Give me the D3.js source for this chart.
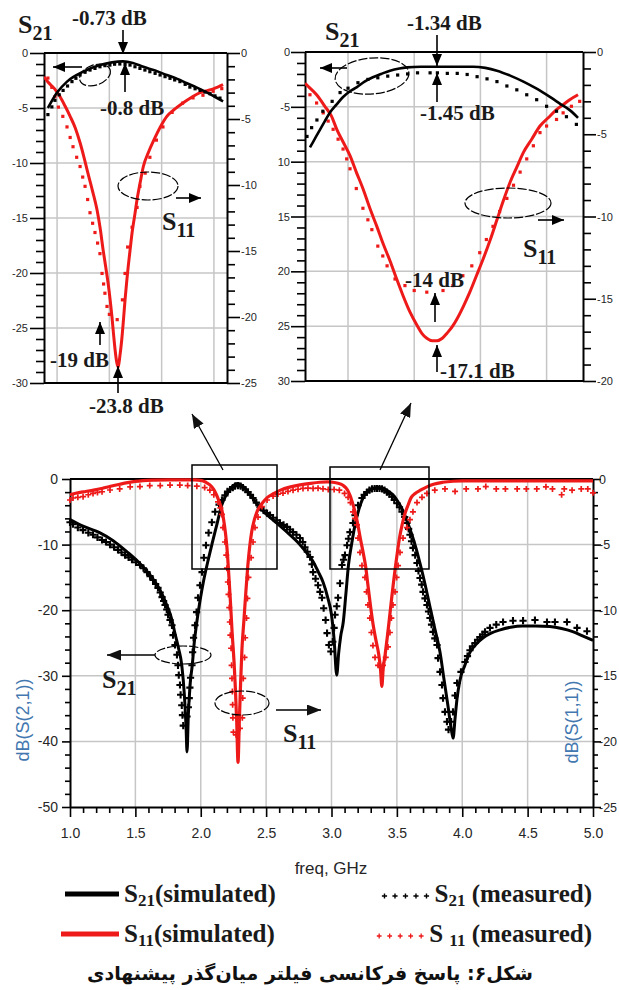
<!DOCTYPE html>
<html><head><meta charset="utf-8">
<script src="https://cdn.jsdelivr.net/npm/d3@7"></script>
<style>body{margin:0;background:#fff}</style></head><body>
<script>
// ---------------- DATA ----------------
// Main chart: frequency (GHz), S21 in dB (left axis), S11 in dB (right axis)
const mainFreqTicks = [1.0,1.5,2.0,2.5,3.0,3.5,4.0,4.5,5.0];
const mainLeftTicks = [0,-10,-20,-30,-40,-50];
const mainRightTicks = [0,-5,-10,-15,-20,-25];
const insetLeftTicks = [0,-5,-10,-15,-20,-25,-30];
const insetARightTicks = [0,-5,-10,-15,-20,-25];
const insetBRightTicks = [0,-5,-10,-15,-20];
const insetAGridFreq = [2.05,2.25,2.45,2.65];
const insetBGridFreq = [3.1,3.3,3.5,3.7];

const s21SimMain = [[1.0,-6.2],[1.1,-7.2],[1.23,-8.2],[1.33,-9.4],[1.436,-11.1],[1.52,-12.6],[1.61,-14.6],[1.68,-16.6],[1.74,-19.2],[1.78,-21.5],[1.80,-23.3],[1.83,-25.8],[1.855,-28.4],[1.875,-33],[1.888,-38],[1.895,-41.6],[1.905,-36],[1.92,-31],[1.935,-28.4],[1.95,-25],[1.97,-21.8],[1.995,-18.5],[2.02,-15.7],[2.055,-12.5],[2.09,-9.6],[2.125,-6.8],[2.16,-4.0],[2.19,-2.6],[2.22,-1.7],[2.25,-1.0],[2.28,-0.7],[2.31,-0.9],[2.35,-1.7],[2.40,-3.0],[2.45,-4.3],[2.51,-5.5],[2.58,-6.7],[2.66,-8.1],[2.74,-9.6],[2.80,-11.0],[2.86,-12.6],[2.90,-14.2],[2.935,-15.7],[2.97,-18.0],[3.0,-20.7],[3.02,-24.5],[3.04,-29.9],[3.055,-26.5],[3.07,-24.0],[3.09,-21.8],[3.11,-17.5],[3.13,-13.1],[3.155,-9.8],[3.18,-7.0],[3.21,-4.6],[3.24,-2.9],[3.28,-1.8],[3.32,-1.4],[3.36,-1.3],[3.39,-1.4],[3.43,-1.8],[3.47,-2.4],[3.51,-3.5],[3.55,-5.0],[3.585,-6.8],[3.615,-8.5],[3.65,-10.8],[3.68,-13.1],[3.715,-16.0],[3.75,-19.2],[3.79,-22.8],[3.83,-26.4],[3.86,-30.5],[3.89,-34.5],[3.915,-38],[3.93,-39.5],[3.945,-36.5],[3.96,-33.5],[3.98,-30.9],[4.02,-28.4],[4.06,-26.4],[4.11,-25.1],[4.16,-24.2],[4.22,-23.5],[4.29,-23.0],[4.37,-22.6],[4.46,-22.4],[4.56,-22.4],[4.67,-22.5],[4.76,-22.8],[4.85,-23.3],[4.92,-23.9],[5.0,-24.6]];

const s11SimMain = [[1.0,-1.2],[1.06,-1.05],[1.12,-0.95],[1.18,-0.85],[1.25,-0.7],[1.31,-0.55],[1.38,-0.4],[1.44,-0.28],[1.5,-0.18],[1.56,-0.12],[1.65,-0.08],[1.75,-0.06],[1.85,-0.06],[1.95,-0.07],[2.0,-0.1],[2.04,-0.25],[2.07,-0.45],[2.1,-0.8],[2.12,-1.2],[2.14,-1.7],[2.16,-2.3],[2.175,-3.1],[2.19,-4.2],[2.2,-5.2],[2.21,-6.6],[2.225,-9.0],[2.24,-11.7],[2.255,-14.0],[2.265,-16.0],[2.275,-18.5],[2.285,-21.6],[2.295,-18.5],[2.305,-15.5],[2.315,-13.0],[2.33,-10.8],[2.345,-8.6],[2.36,-6.6],[2.375,-5.1],[2.39,-4.0],[2.41,-3.1],[2.43,-2.5],[2.47,-1.85],[2.51,-1.4],[2.56,-1.1],[2.61,-0.85],[2.68,-0.62],[2.76,-0.45],[2.84,-0.33],[2.91,-0.25],[2.97,-0.22],[3.01,-0.25],[3.05,-0.33],[3.09,-0.5],[3.12,-0.8],[3.14,-1.2],[3.16,-1.8],[3.18,-2.5],[3.2,-3.4],[3.22,-4.5],[3.24,-5.5],[3.26,-6.6],[3.28,-8.2],[3.3,-9.8],[3.32,-11.2],[3.34,-12.3],[3.36,-13.3],[3.375,-14.5],[3.385,-15.8],[3.395,-14.5],[3.41,-13.4],[3.425,-12.2],[3.44,-10.9],[3.46,-9.1],[3.475,-7.8],[3.49,-6.6],[3.505,-5.5],[3.52,-4.5],[3.54,-3.5],[3.56,-2.7],[3.585,-2.0],[3.61,-1.4],[3.64,-1.1],[3.68,-0.85],[3.73,-0.6],[3.78,-0.4],[3.85,-0.25],[3.93,-0.17],[4.0,-0.15],[4.5,-0.15],[5.0,-0.15]];

const s21MeasMain = [[1.0,-6.6],[1.023,-6.9],[1.06,-7.4],[1.099,-7.8],[1.14,-8.2],[1.176,-8.5],[1.21,-8.9],[1.245,-9.3],[1.275,-9.6],[1.306,-10.0],[1.337,-10.4],[1.367,-10.8],[1.394,-11.2],[1.421,-11.6],[1.448,-11.95],[1.474,-12.3],[1.505,-12.7],[1.535,-13.1],[1.562,-13.6],[1.589,-14.2],[1.612,-14.8],[1.635,-15.4],[1.655,-16.0],[1.673,-16.6],[1.69,-17.3],[1.704,-18.0],[1.716,-18.6],[1.727,-19.2],[1.74,-19.9],[1.75,-20.7],[1.765,-21.5],[1.78,-22.3],[1.788,-23.8],[1.803,-25.3],[1.818,-26.8],[1.826,-28.4],[1.832,-29.9],[1.841,-31.4],[1.846,-32.9],[1.855,-34.5],[1.86,-36.0],[1.866,-37.6],[1.895,-36.2],[1.905,-34.8],[1.912,-33.4],[1.917,-31.8],[1.922,-30.3],[1.933,-28.4],[1.938,-26.4],[1.945,-24.2],[1.956,-22.3],[1.968,-20.3],[1.979,-18.1],[1.994,-16.2],[2.01,-14.2],[2.024,-12.0],[2.04,-10.1],[2.06,-8.2],[2.085,-6.6],[2.11,-5.0],[2.14,-3.9],[2.162,-3.2],[2.185,-2.5],[2.205,-1.9],[2.224,-1.6],[2.245,-1.3],[2.262,-1.1],[2.285,-1.0],[2.305,-1.1],[2.323,-1.3],[2.342,-1.6],[2.361,-2.0],[2.38,-2.4],[2.40,-2.9],[2.425,-3.6],[2.453,-4.3],[2.48,-4.8],[2.507,-5.2],[2.53,-5.5],[2.553,-5.9],[2.58,-6.3],[2.606,-6.7],[2.633,-7.0],[2.66,-7.3],[2.683,-7.7],[2.706,-8.1],[2.732,-8.5],[2.759,-9.0],[2.78,-9.6],[2.797,-10.4],[2.815,-11.1],[2.836,-11.9],[2.85,-13.0],[2.859,-14.2],[2.878,-15.2],[2.897,-16.2],[2.912,-17.2],[2.927,-18.1],[2.94,-19.7],[2.955,-21.5],[2.966,-23.5],[2.98,-25.3],[2.995,-26.3],[3.01,-24.8],[3.02,-22.7],[3.027,-20.7],[3.04,-19.4],[3.05,-18.1],[3.065,-15.9],[3.08,-13.1],[3.092,-12.3],[3.103,-11.6],[3.119,-10.1],[3.13,-9.1],[3.141,-8.1],[3.164,-6.7],[3.18,-5.5],[3.203,-4.0],[3.233,-2.9],[3.25,-2.4],[3.271,-2.0],[3.29,-1.7],[3.31,-1.5],[3.33,-1.45],[3.348,-1.45],[3.367,-1.45],[3.386,-1.5],[3.405,-1.7],[3.424,-2.0],[3.443,-2.3],[3.463,-2.7],[3.48,-3.2],[3.501,-3.7],[3.52,-4.3],[3.539,-5.0],[3.56,-5.8],[3.577,-6.7],[3.59,-7.6],[3.60,-8.5],[3.612,-9.5],[3.623,-10.5],[3.64,-11.6],[3.654,-12.8],[3.665,-14.0],[3.677,-15.1],[3.69,-16.1],[3.70,-17.2],[3.715,-18.2],[3.73,-19.2],[3.742,-20.2],[3.753,-21.2],[3.765,-22.2],[3.776,-23.3],[3.79,-24.3],[3.807,-25.3],[3.815,-27.3],[3.83,-29.4],[3.845,-31.4],[3.853,-33.4],[3.868,-35.5],[3.883,-37.0],[3.895,-38.2],[3.915,-37.0],[3.929,-35.5],[3.945,-33.0],[3.96,-31.1],[3.99,-29.4],[4.021,-27.9],[4.04,-27.0],[4.059,-26.1],[4.078,-25.5],[4.098,-25.0],[4.117,-24.5],[4.136,-24.1],[4.155,-23.7],[4.174,-23.3],[4.212,-22.7],[4.26,-22.2],[4.312,-21.8],[4.388,-21.6],[4.465,-21.6],[4.556,-21.5],[4.648,-21.8],[4.709,-21.8],[4.801,-21.8],[4.878,-22.7],[4.954,-23.2]];

const s11MeasMain = [[1.0,-1.6],[1.023,-1.45],[1.06,-1.4],[1.10,-1.35],[1.14,-1.2],[1.176,-1.1],[1.21,-1.02],[1.245,-0.97],[1.306,-0.84],[1.38,-0.76],[1.46,-0.6],[1.535,-0.58],[1.61,-0.5],[1.69,-0.5],[1.765,-0.46],[1.84,-0.46],[1.90,-0.5],[1.97,-0.55],[2.03,-0.65],[2.07,-0.85],[2.10,-1.2],[2.132,-1.75],[2.15,-2.2],[2.162,-2.7],[2.17,-3.7],[2.185,-4.8],[2.195,-5.8],[2.2,-6.8],[2.207,-7.85],[2.212,-8.8],[2.218,-9.8],[2.222,-10.9],[2.226,-11.9],[2.232,-12.9],[2.236,-14.2],[2.239,-15.2],[2.242,-16.2],[2.244,-17.2],[2.246,-18.2],[2.25,-19.3],[2.27,-19.5],[2.30,-19.0],[2.318,-18.2],[2.321,-16.7],[2.325,-15.2],[2.335,-13.6],[2.34,-12.1],[2.35,-10.6],[2.357,-9.1],[2.365,-7.5],[2.385,-6.0],[2.40,-4.8],[2.415,-3.7],[2.438,-2.9],[2.468,-2.1],[2.507,-1.6],[2.553,-1.3],[2.59,-1.15],[2.629,-1.07],[2.667,-0.95],[2.706,-0.85],[2.744,-0.78],[2.782,-0.72],[2.82,-0.7],[2.859,-0.72],[2.897,-0.7],[2.935,-0.75],[2.975,-0.8],[3.02,-0.8],[3.06,-0.85],[3.10,-1.1],[3.127,-1.4],[3.145,-1.8],[3.164,-2.5],[3.18,-3.0],[3.195,-3.5],[3.203,-4.5],[3.218,-5.6],[3.233,-6.6],[3.256,-7.5],[3.268,-8.6],[3.279,-9.6],[3.294,-10.6],[3.305,-11.7],[3.317,-12.7],[3.333,-13.6],[3.356,-14.2],[3.375,-14.3],[3.394,-14.2],[3.415,-13.6],[3.432,-12.8],[3.447,-11.7],[3.458,-10.6],[3.47,-9.6],[3.486,-8.6],[3.498,-7.5],[3.509,-6.6],[3.524,-5.6],[3.547,-4.5],[3.577,-3.7],[3.60,-3.1],[3.623,-2.5],[3.654,-1.8],[3.692,-1.4],[3.73,-1.1],[3.79,-0.85],[3.868,-0.76],[3.945,-0.95],[4.03,-0.76],[4.12,-0.76],[4.18,-0.58],[4.26,-0.76],[4.33,-0.76],[4.42,-0.76],[4.49,-0.76],[4.57,-0.76],[4.64,-0.6],[4.69,-0.76],[4.76,-1.2],[4.78,-0.76],[4.84,-0.85],[4.91,-0.76],[4.96,-0.76],[5.0,-1.05]];

// Inset A (first passband)
const aS21Sim = [[2.015,-5.0],[2.05,-3.6],[2.088,-2.6],[2.15,-1.7],[2.214,-1.1],[2.26,-0.85],[2.302,-0.76],[2.34,-0.9],[2.38,-1.25],[2.425,-1.6],[2.47,-2.0],[2.51,-2.35],[2.547,-2.75],[2.585,-3.15],[2.624,-3.6],[2.655,-4.0],[2.685,-4.4]];
const aS21Meas = [[2.015,-5.6],[2.03,-4.9],[2.042,-4.3],[2.058,-3.8],[2.073,-3.4],[2.09,-3.0],[2.107,-2.6],[2.122,-2.3],[2.138,-2.0],[2.157,-1.75],[2.176,-1.55],[2.195,-1.4],[2.214,-1.25],[2.233,-1.15],[2.252,-1.1],[2.27,-1.02],[2.29,-1.0],[2.31,-1.03],[2.329,-1.1],[2.348,-1.25],[2.367,-1.4],[2.386,-1.55],[2.405,-1.7],[2.425,-1.85],[2.444,-2.0],[2.463,-2.15],[2.482,-2.3],[2.50,-2.45],[2.52,-2.6],[2.54,-2.85],[2.558,-3.1],[2.578,-3.25],[2.597,-3.4],[2.616,-3.55],[2.635,-3.7],[2.654,-3.9],[2.673,-4.1]];
const aS11Sim = [[2.0,-1.8],[2.015,-2.2],[2.04,-2.7],[2.061,-3.3],[2.08,-4.0],[2.1,-4.8],[2.12,-5.7],[2.138,-6.8],[2.153,-7.9],[2.168,-9.1],[2.185,-10.4],[2.203,-11.9],[2.215,-13.3],[2.226,-14.9],[2.236,-16.2],[2.245,-17.4],[2.253,-18.7],[2.26,-20],[2.266,-21.3],[2.272,-22.5],[2.278,-23.4],[2.284,-23.8],[2.29,-23.0],[2.297,-21.8],[2.304,-20.2],[2.31,-18.7],[2.316,-17.4],[2.322,-16.2],[2.33,-14.8],[2.337,-13.6],[2.347,-12.3],[2.356,-11.1],[2.368,-9.8],[2.38,-8.6],[2.40,-7.5],[2.42,-6.6],[2.445,-5.6],[2.47,-4.8],[2.5,-4.25],[2.53,-3.8],[2.565,-3.35],[2.597,-3.0],[2.625,-2.85],[2.65,-2.7],[2.685,-2.4]];
const aS11Meas = [[2.015,-1.9],[2.03,-2.6],[2.042,-3.3],[2.055,-4.1],[2.072,-4.8],[2.088,-5.6],[2.1,-6.4],[2.111,-7.1],[2.125,-7.9],[2.138,-8.6],[2.148,-9.4],[2.157,-10.1],[2.167,-11.1],[2.176,-12.1],[2.186,-12.9],[2.195,-13.6],[2.205,-14.4],[2.214,-15.2],[2.222,-16.7],[2.228,-17.5],[2.233,-18.2],[2.241,-19.2],[2.25,-19.8],[2.28,-20.2],[2.30,-18.7],[2.31,-16.7],[2.32,-14.7],[2.337,-13.2],[2.356,-11.7],[2.367,-10.1],[2.387,-9.1],[2.405,-7.9],[2.43,-6.6],[2.455,-5.6],[2.49,-4.5],[2.53,-3.8],[2.57,-3.4],[2.608,-3.2],[2.647,-2.9],[2.68,-2.7]];

// Inset B (second passband)
const bS21Sim = [[2.985,-8.7],[3.0,-7.9],[3.015,-7.1],[3.03,-6.3],[3.046,-5.5],[3.065,-4.8],[3.085,-4.1],[3.105,-3.6],[3.127,-3.2],[3.15,-2.7],[3.175,-2.3],[3.2,-2.0],[3.227,-1.7],[3.255,-1.5],[3.278,-1.4],[3.32,-1.34],[3.378,-1.34],[3.43,-1.34],[3.478,-1.34],[3.515,-1.45],[3.55,-1.7],[3.59,-2.15],[3.63,-2.7],[3.67,-3.35],[3.71,-4.1],[3.74,-4.7],[3.77,-5.3],[3.795,-6.0]];
const bS21Meas = [[2.976,-7.7],[2.99,-6.9],[3.006,-6.2],[3.024,-5.4],[3.052,-4.5],[3.076,-3.7],[3.10,-3.3],[3.13,-2.8],[3.16,-2.5],[3.19,-2.35],[3.22,-2.2],[3.25,-2.1],[3.28,-2.0],[3.31,-1.9],[3.348,-1.9],[3.37,-1.9],[3.40,-1.95],[3.43,-1.95],[3.46,-2.05],[3.49,-2.25],[3.52,-2.45],[3.55,-2.7],[3.58,-3.1],[3.61,-3.45],[3.64,-3.9],[3.67,-4.35],[3.70,-4.95],[3.73,-5.4],[3.76,-5.9],[3.79,-6.6]];
const bS11Sim = [[2.97,-1.9],[2.98,-2.1],[3.005,-2.6],[3.03,-3.3],[3.05,-3.9],[3.066,-4.7],[3.086,-5.5],[3.106,-6.3],[3.125,-7.3],[3.145,-8.3],[3.166,-9.5],[3.187,-10.6],[3.207,-11.7],[3.227,-12.7],[3.247,-13.8],[3.266,-14.8],[3.287,-15.8],[3.308,-16.6],[3.323,-17.1],[3.338,-17.4],[3.355,-17.55],[3.369,-17.55],[3.385,-17.4],[3.399,-17.1],[3.415,-16.7],[3.43,-16.2],[3.45,-15.4],[3.468,-14.6],[3.488,-13.6],[3.508,-12.6],[3.53,-11.4],[3.55,-10.2],[3.57,-9.0],[3.59,-7.9],[3.61,-7.0],[3.63,-6.1],[3.655,-5.3],[3.68,-4.5],[3.705,-4.0],[3.73,-3.5],[3.75,-3.2],[3.77,-2.9],[3.795,-2.6]];
const bS11Meas = [[2.985,-2.6],[3.005,-3.1],[3.025,-3.7],[3.04,-4.2],[3.055,-4.7],[3.07,-5.3],[3.085,-5.9],[3.096,-6.5],[3.106,-7.1],[3.125,-8.3],[3.145,-9.5],[3.16,-10.2],[3.172,-10.8],[3.19,-11.8],[3.205,-12.4],[3.218,-13.0],[3.242,-13.8],[3.272,-14.2],[3.30,-14.5],[3.338,-14.6],[3.387,-14.5],[3.417,-14.2],[3.447,-13.6],[3.474,-13.0],[3.498,-12.2],[3.518,-11.4],[3.538,-10.6],[3.558,-9.7],[3.58,-8.9],[3.6,-8.1],[3.62,-7.3],[3.64,-6.5],[3.66,-5.7],[3.68,-4.9],[3.70,-4.5],[3.73,-4.1],[3.75,-3.7],[3.775,-3.3],[3.80,-3.0]];

// ---------------- DRAWING ----------------
const W = 619, H = 990;
const RED = "#ee1a1a";
const BLUE = "#4377b0";
const serif = "'Liberation Serif','Times New Roman',serif";
const sans = "'Liberation Sans',Arial,sans-serif";

const svg = d3.select("body").append("svg").attr("width", W).attr("height", H)
  .style("background", "#fff").style("display","block");
svg.append("rect").attr("width", W).attr("height", H).attr("fill", "#fff");
const defs = svg.append("defs");
defs.append("marker").attr("id", "ah").attr("viewBox", "0 0 12 10")
  .attr("refX", 12).attr("refY", 5).attr("markerWidth", 12).attr("markerHeight", 10)
  .attr("markerUnits", "userSpaceOnUse").attr("orient", "auto")
  .append("path").attr("d", "M0,0L12,5L0,10Z").attr("fill", "#000");
defs.append("marker").attr("id", "ah2").attr("viewBox", "0 0 14 11")
  .attr("refX", 14).attr("refY", 5.5).attr("markerWidth", 14).attr("markerHeight", 11)
  .attr("markerUnits", "userSpaceOnUse").attr("orient", "auto")
  .append("path").attr("d", "M0,0L14,5.5L0,11Z").attr("fill", "#111");

function styleAxis(g, fs) {
  g.selectAll(".domain").attr("stroke", "#000").attr("stroke-width", 2);
  g.selectAll(".tick line").attr("stroke", "#000").attr("stroke-width", 1.6);
  g.selectAll(".tick text").attr("font-family", sans).attr("font-size", fs).attr("fill", "#262626");
}

function panel(p) {
  const x = d3.scaleLinear(p.xDomain, [p.left, p.right]);
  const yl = d3.scaleLinear(p.ylDomain, [p.bottom, p.top]);
  const yr = d3.scaleLinear(p.yrDomain, [p.bottom, p.top]);
  const g = svg.append("g");
  g.append("g").selectAll("line").data(p.xGrid).join("line")
    .attr("x1", d => x(d)).attr("x2", d => x(d)).attr("y1", p.top).attr("y2", p.bottom)
    .attr("stroke", "#c6c6c6").attr("stroke-width", 1.5);
  g.append("g").selectAll("line").data(p.yGrid).join("line")
    .attr("y1", d => yl(d)).attr("y2", d => yl(d)).attr("x1", p.left).attr("x2", p.right)
    .attr("stroke", "#c6c6c6").attr("stroke-width", 1.5);
  const gl = g.append("g").attr("transform", `translate(${p.left},0)`)
    .call(d3.axisLeft(yl).tickValues(p.ylTicks).tickSize(p.tL[0]).tickSizeOuter(0).tickPadding(p.tL[2]).tickFormat(p.fmtL || (d => String(d))));
  const glm = g.append("g").attr("transform", `translate(${p.left},0)`)
    .call(d3.axisLeft(yl).tickValues(p.ylMinor).tickSize(p.tL[1]).tickFormat(""));
  glm.select(".domain").remove();
  const gr = g.append("g").attr("transform", `translate(${p.right},0)`)
    .call(d3.axisRight(yr).tickValues(p.yrTicks).tickSize(p.tR[0]).tickSizeOuter(0).tickPadding(p.tR[2]).tickFormat(d => String(d)));
  const grm = g.append("g").attr("transform", `translate(${p.right},0)`)
    .call(d3.axisRight(yr).tickValues(p.yrMinor).tickSize(p.tR[1]).tickFormat(""));
  grm.select(".domain").remove();
  [gl, glm, grm].forEach(a => styleAxis(a, p.fs));
  styleAxis(gr, p.fsR || p.fs);
  if (p.xTicks) {
    const gb = g.append("g").attr("transform", `translate(0,${p.bottom})`)
      .call(d3.axisBottom(x).tickValues(p.xTicks).tickSize(p.tB[0]).tickSizeOuter(0).tickPadding(p.tB[2]).tickFormat(d3.format(".1f")));
    const gbm = g.append("g").attr("transform", `translate(0,${p.bottom})`)
      .call(d3.axisBottom(x).tickValues(p.xMinor).tickSize(p.tB[1]).tickFormat(""));
    gbm.select(".domain").remove();
    [gb, gbm].forEach(a => styleAxis(a, p.fs));
  } else {
    g.append("line").attr("x1", p.left).attr("x2", p.right).attr("y1", p.bottom).attr("y2", p.bottom)
      .attr("stroke", "#000").attr("stroke-width", 2);
  }
  g.append("line").attr("x1", p.left).attr("x2", p.right).attr("y1", p.top).attr("y2", p.top)
    .attr("stroke", "#000").attr("stroke-width", 2);
  let cg = g;
  if (p.clip) {
    const id = "clip" + p.clip;
    defs.append("clipPath").attr("id", id).append("rect")
      .attr("x", p.left).attr("y", p.top - 1).attr("width", p.right - p.left).attr("height", p.bottom - p.top + 1);
    cg = g.append("g").attr("clip-path", `url(#${id})`);
  }
  return { x, yl, yr, g: cg };
}

function curve(P, data, y, color, w) {
  const line = d3.line().x(d => P.x(d[0])).y(d => y(d[1])).curve(d3.curveMonotoneX);
  P.g.append("path").datum(data).attr("d", line).attr("fill", "none")
    .attr("stroke", color).attr("stroke-width", w).attr("stroke-linejoin", "round");
}
function crosses(P, data, y, color, a, w) {
  P.g.append("g").selectAll("path").data(data).join("path")
    .attr("transform", d => `translate(${P.x(d[0])},${y(d[1])})`)
    .attr("d", `M${-a},0H${a}M0,${-a}V${a}`).attr("stroke", color).attr("stroke-width", w).attr("fill", "none");
}
function dots(P, data, y, color, s) {
  P.g.append("g").selectAll("rect").data(data).join("rect")
    .attr("x", d => P.x(d[0]) - s / 2).attr("y", d => y(d[1]) - s / 2)
    .attr("width", s).attr("height", s).attr("fill", color);
}

const minorRange = (lo, hi, step, majorStep) => d3.range(lo, hi + step / 2, step)
  .map(v => +v.toFixed(3)).filter(v => Math.abs(v / majorStep - Math.round(v / majorStep)) > 1e-6);

// ---------- main chart ----------
const M = panel({
  left: 70, right: 593, top: 479, bottom: 807,
  xDomain: [1, 5], ylDomain: [-50, 0], yrDomain: [-25, 0],
  xGrid: mainFreqTicks.slice(1, -1), yGrid: mainLeftTicks.slice(1, -1),
  xTicks: mainFreqTicks, xMinor: minorRange(1, 5, 0.1, 0.5),
  ylTicks: mainLeftTicks, ylMinor: minorRange(-50, 0, 2, 10),
  yrTicks: mainRightTicks, yrMinor: minorRange(-25, 0, 1, 5),
  tL: [8, 5, 4], tR: [8, 5, -2], tB: [10, 6, 11], fs: 14, fsR: 12.5
});
curve(M, s21SimMain, M.yl, "#000", 3);
crosses(M, s21MeasMain, M.yl, "#000", 3.6, 2.1);
curve(M, s11SimMain, M.yr, RED, 3.2);
crosses(M, s11MeasMain, M.yr, RED, 3, 1.7);

// ---------- inset A ----------
const A = panel({
  left: 44, right: 227, top: 53, bottom: 383,
  xDomain: [2.0, 2.7], ylDomain: [-30, 0], yrDomain: [-25, 0],
  xGrid: insetAGridFreq, yGrid: insetLeftTicks.slice(1, -1),
  ylTicks: insetLeftTicks, ylMinor: minorRange(-30, 0, 1, 5),
  yrTicks: insetARightTicks, yrMinor: minorRange(-25, 0, 1, 5),
  tL: [14, 8, 2], tR: [13, 8, 1], fs: 11, clip: "A"
});
dots(A, aS11Meas, A.yr, RED, 3.2);
curve(A, aS11Sim, A.yr, RED, 3);
dots(A, aS21Meas, A.yl, "#000", 3.2);
curve(A, aS21Sim, A.yl, "#000", 2.6);

// ---------- inset B ----------
const B = panel({
  left: 305, right: 583, top: 52, bottom: 381,
  xDomain: [2.97, 3.81], ylDomain: [-30, 0], yrDomain: [-20, 0],
  xGrid: insetBGridFreq, yGrid: insetLeftTicks.slice(1, -1),
  ylTicks: insetLeftTicks, ylMinor: minorRange(-30, 0, 1, 5),
  yrTicks: insetBRightTicks, yrMinor: minorRange(-20, 0, 1, 5),
  fmtL: d => (d < -5 ? String(-d) : String(d)),
  tL: [14, 8, 1], tR: [13, 8, 1], fs: 11, clip: "B"
});
dots(B, bS11Meas, B.yr, RED, 3.2);
curve(B, bS11Sim, B.yr, RED, 3);
dots(B, bS21Meas, B.yl, "#000", 3.2);
curve(B, bS21Sim, B.yl, "#000", 2.6);

// ---------- annotations ----------
const ann = svg.append("g");
function arrow(x1, y1, x2, y2, m = "ah", w = 1.6) {
  ann.append("line").attr("x1", x1).attr("y1", y1).attr("x2", x2).attr("y2", y2)
    .attr("stroke", "#000").attr("stroke-width", w).attr("marker-end", `url(#${m})`);
}
function ellipse(cx, cy, rx, ry, rot = 0) {
  ann.append("ellipse").attr("cx", cx).attr("cy", cy).attr("rx", rx).attr("ry", ry)
    .attr("transform", `rotate(${rot},${cx},${cy})`)
    .attr("fill", "none").attr("stroke", "#000").attr("stroke-width", 1.2).attr("stroke-dasharray", "9,2");
}
function txt(x, y, s, fs = 21) {
  ann.append("text").attr("x", x).attr("y", y).attr("font-family", serif).attr("font-weight", "bold")
    .attr("font-size", fs).attr("fill", "#1a1a1a").text(s);
}
function sLab(x, y, sub, fs = 26, sfs = 20, dy = 7) {
  const t = ann.append("text").attr("x", x).attr("y", y).attr("font-family", serif)
    .attr("font-weight", "bold").attr("font-size", fs).attr("fill", "#1a1a1a");
  t.append("tspan").text("S");
  t.append("tspan").attr("font-size", sfs).attr("dy", dy).text(sub);
}

// inset A
txt(72, 25, "-0.73 dB");
arrow(123, 30, 123, 54);
arrow(125, 92, 125, 63);
txt(100, 115, "-0.8 dB");
ellipse(95, 75, 16, 10, -20);
arrow(82, 67, 53, 67);
sLab(18, 33, "21");
ellipse(148, 186, 30, 14);
arrow(176, 198, 201, 198);
sLab(162, 230, "11");
arrow(100, 345, 100, 322);
txt(50, 367, "-19 dB");
arrow(118, 393, 118, 366);
txt(89, 413, "-23.8 dB");

// inset B
txt(407, 30, "-1.34 dB");
arrow(437, 35, 437, 66);
arrow(437, 102, 437, 73);
txt(420, 120, "-1.45 dB");
ellipse(372, 76, 37, 18, -5);
arrow(347, 68, 320, 68);
sLab(325, 40, "21");
ellipse(508, 203, 43, 15);
arrow(538, 220, 564, 220);
sLab(523, 257, "11");
txt(405, 287, "-14 dB");
arrow(435, 322, 435, 293);
arrow(437, 372, 437, 345);
txt(440, 378, "-17.1 dB");

// main chart boxes and arrows
ann.append("rect").attr("x", 192).attr("y", 465).attr("width", 85).attr("height", 104)
  .attr("fill", "none").attr("stroke", "#000").attr("stroke-width", 1.5);
ann.append("rect").attr("x", 330).attr("y", 467).attr("width", 99).attr("height", 102)
  .attr("fill", "none").attr("stroke", "#000").attr("stroke-width", 1.5);
arrow(223, 470, 192, 414, "ah2", 1.3);
arrow(380, 470, 411, 403, "ah2", 1.3);
ellipse(183, 655, 28, 9);
arrow(155, 655, 107, 655, "ah2", 1.5);
sLab(102, 688, "21");
ellipse(242, 703, 27, 12);
arrow(276, 710, 321, 710, "ah2", 1.5);
sLab(283, 742, "11");

// axis titles
svg.append("text").attr("x", 331).attr("y", 874).attr("text-anchor", "middle")
  .attr("font-family", sans).attr("font-size", 17).attr("fill", "#262626").text("freq, GHz");
svg.append("text").attr("transform", "translate(29,720) rotate(-90)").attr("text-anchor", "middle")
  .attr("font-family", sans).attr("font-size", 18).attr("fill", BLUE).text("dB(S(2,1))");
svg.append("text").attr("transform", "translate(578,722) rotate(-90)").attr("text-anchor", "middle")
  .attr("font-family", sans).attr("font-size", 18).attr("fill", BLUE).text("dB(S(1,1))");

// ---------- legend ----------
const leg = svg.append("g");
function legText(x, y, parts, anchor) {
  const t = leg.append("text").attr("x", x).attr("y", y).attr("font-family", serif)
    .attr("font-weight", "bold").attr("font-size", 25).attr("fill", "#1a1a1a").attr("text-anchor", anchor || "start");
  t.append("tspan").text(parts[0]);
  t.append("tspan").attr("font-size", 17).attr("dy", 4).text(parts[1]);
  t.append("tspan").attr("dy", -4).text(parts[2]);
  return t;
}
leg.append("line").attr("x1", 65).attr("x2", 119).attr("y1", 894).attr("y2", 894).attr("stroke", "#000").attr("stroke-width", 5);
legText(124, 902, ["S", "21", "(simulated)"]);
leg.append("line").attr("x1", 61).attr("x2", 119).attr("y1", 934).attr("y2", 934).attr("stroke", RED).attr("stroke-width", 5);
legText(124, 942, ["S", "11", "(simulated)"]);
const m1 = legText(592, 902, ["S", "21", " (measured)"], "end");
const m2 = legText(592, 942, ["S ", "11", " (measured)"], "end");
function legCross(tnode, y, color, a, w) {
  const bb = tnode.node().getBBox();
  const xs = d3.range(5).map(i => bb.x - 8 - i * 10.5);
  leg.append("g").selectAll("path").data(xs).join("path")
    .attr("transform", d => `translate(${d},${y})`)
    .attr("d", `M${-a},0H${a}M0,${-a}V${a}`).attr("stroke", color).attr("stroke-width", w);
}
legCross(m1, 896, "#000", 2.6, 1.4);
legCross(m2, 936, RED, 2.4, 1.3);

// caption
svg.append("text").attr("x", 310).attr("y", 980).attr("text-anchor", "middle")
  .attr("direction", "rtl").attr("font-family", "'DejaVu Sans','Noto Sans',sans-serif")
  .attr("font-weight", "bold").attr("font-size", 19).attr("fill", "#111")
  .text("شکل۶: پاسخ فرکانسی فیلتر میان‌گذر پیشنهادی");
</script></body></html>
